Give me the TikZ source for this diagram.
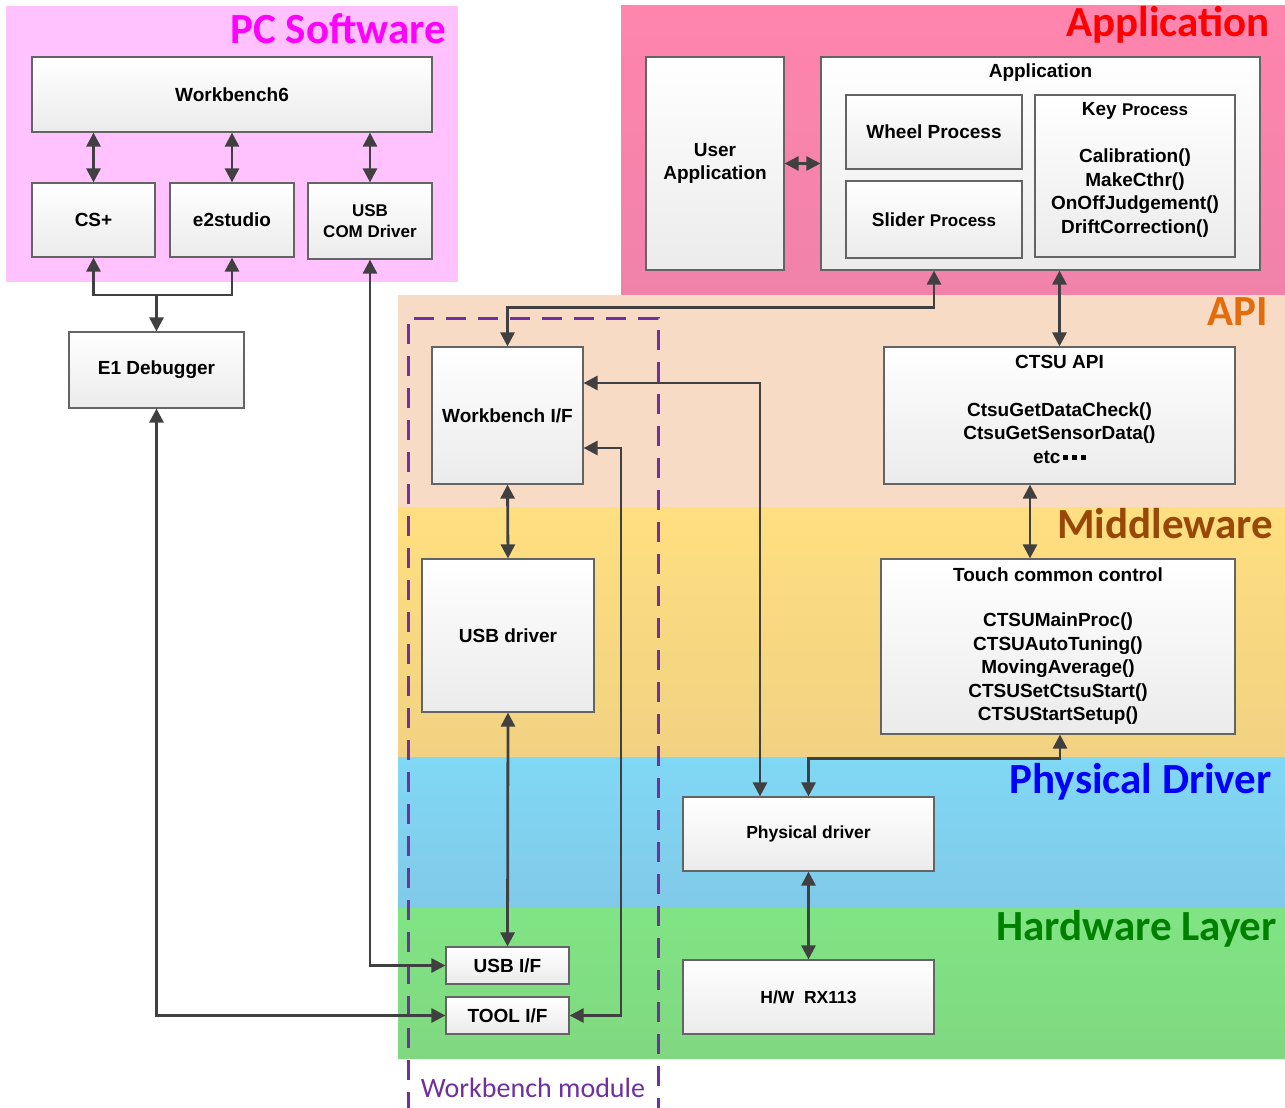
\documentclass[tikz,border=0pt]{standalone}
\usepackage{fontspec}
\setmainfont{Liberation Sans}
\newfontfamily\ttlfont{Carlito}
\usetikzlibrary{arrows.meta}
\newcommand\boxfont{\bfseries\fontsize{19}{23.5}\selectfont}
\newcommand\smallbox{\bfseries\fontsize{17}{21}\selectfont}
\newcommand\sqdot{\rule[3.5pt]{4.5pt}{4.5pt}}
\definecolor{boxedge}{HTML}{646464}
\definecolor{boxbottom}{HTML}{EBEBEB}
\definecolor{arrowgray}{HTML}{404040}
\definecolor{pcbg}{HTML}{FFC2FF}
\definecolor{apptop}{HTML}{FF85AD}
\definecolor{appbot}{HTML}{F082AA}
\definecolor{apibg}{HTML}{F8DBC4}
\definecolor{mwtop}{HTML}{FFDF80}
\definecolor{mwbot}{HTML}{F0D282}
\definecolor{pdtop}{HTML}{80D8F5}
\definecolor{pdbot}{HTML}{80CAE8}
\definecolor{hwtop}{HTML}{80E484}
\definecolor{hwbot}{HTML}{80D880}
\definecolor{pctitle}{HTML}{FF00FF}
\definecolor{apititle}{HTML}{E46C0A}
\definecolor{mwtitle}{HTML}{984806}
\definecolor{hwtitle}{HTML}{008000}
\definecolor{modpurple}{HTML}{7030A0}
\begin{document}
\begin{tikzpicture}[x=1pt,y=-1pt,
  >={Triangle[length=14pt,width=14pt]},
  block/.style={draw=boxedge, line width=1.2pt, top color=white, bottom color=boxbottom,
    inner sep=0pt, align=center, font=\boxfont},
  txt/.style={inner sep=0pt, align=center, font=\boxfont},
  conn/.style={draw=arrowgray, line width=2.8pt},
  ttl/.style={anchor=base east, inner sep=0pt, font=\ttlfont\bfseries\fontsize{43}{43}\selectfont},
  modframe/.style={draw=modpurple, line width=3pt, dash pattern=on 20pt off 12pt}
]
% canvas
\useasboundingbox (0,0) rectangle (1285,1108);
\fill[white] (0,0) rectangle (1285,1108);

% layer backgrounds
\fill[pcbg] (6,6) rectangle (458,282);
\fill[top color=apptop, bottom color=appbot] (621,6) rectangle (1285,295);
\fill[apibg] (398,295) rectangle (1285,507);
\fill[top color=mwtop, bottom color=mwbot] (398,507) rectangle (1285,757);
\fill[top color=pdtop, bottom color=pdbot] (398,757) rectangle (1285,908);
\fill[top color=hwtop, bottom color=hwbot] (398,908) rectangle (1285,1058);

% layer titles
\node[ttl, text=pctitle] (tpc) at (446,44) {PC Software};
\node[ttl, text=red] (tapp) at (1270,37) {Application};
\node[ttl, text=apititle] (tapi) at (1268,325) {API};
\node[ttl, text=mwtitle] (tmw) at (1273,538) {Middleware};
\node[ttl, text=blue] (tpd) at (1272,793) {Physical Driver};
\node[ttl, text=hwtitle] (thw) at (1277,940) {Hardware Layer};

% PC software blocks
\node[block, minimum width=400, minimum height=75] (wb6) at (232,94.5) {Workbench6};
\node[block, minimum width=123, minimum height=74] (cs) at (93.5,220) {CS+};
\node[block, minimum width=124, minimum height=74] (e2) at (232,220) {e2studio};
\node[block, minimum width=124, minimum height=76, font=\smallbox] (usbcom) at (370,221) {USB\\COM Driver};
\node[block, minimum width=175, minimum height=76] (e1) at (156.5,370) {E1 Debugger};

% application blocks
\node[block, minimum width=138, minimum height=213] (userapp) at (715,163.5) {User\\Application};
\node[block, minimum width=439, minimum height=213] (appout) at (1040.5,163.5) {};
\node[txt] (apptitle) at (1040.5,73) {Application};
\node[block, minimum width=176, minimum height=74] (wheel) at (934,132) {Wheel Process};
\node[block, minimum width=176, minimum height=77] (slider) at (934,219.5) {Slider {\smallbox Process}};
\node[block, minimum width=200, minimum height=162] (key) at (1135,176) {};
\node[txt] (keytitle) at (1135,111) {Key {\smallbox Process}};
\node[txt] (keyfuncs) at (1135,193) {Calibration()\\MakeCthr()\\OnOffJudgement()\\DriftCorrection()};

% workbench module blocks
\node[block, minimum width=151, minimum height=137] (wbif) at (507.5,415.5) {Workbench I/F};
\node[block, minimum width=172, minimum height=153] (usbdrv) at (508,635.5) {USB driver};
\node[block, minimum width=123, minimum height=37] (usbif) at (507.5,965.5) {USB I/F};
\node[block, minimum width=123, minimum height=37] (toolif) at (507.5,1015.5) {TOOL I/F};

% API and middleware blocks
\node[block, minimum width=351, minimum height=137] (ctsuapi) at (1059.5,415.5) {};
\node[txt] (apititle) at (1059.5,362) {CTSU API};
\node[txt] (apifuncs) at (1059.5,433) {CtsuGetDataCheck()\\CtsuGetSensorData()\\etc\hspace{3pt}\sqdot\hspace{4.5pt}\sqdot\hspace{4.5pt}\sqdot};
\node[block, minimum width=354, minimum height=175] (touch) at (1058,646.5) {};
\node[txt] (touchtitle) at (1058,575) {Touch common control};
\node[txt] (touchfuncs) at (1058,669) {CTSUMainProc()\\CTSUAutoTuning()\\MovingAverage()\\CTSUSetCtsuStart()\\CTSUStartSetup()};

% driver and hardware blocks
\node[block, minimum width=251, minimum height=74, font=\bfseries\fontsize{17.5}{21}\selectfont] (phys) at (808.5,834) {Physical driver};
\node[block, minimum width=251, minimum height=74, font=\bfseries\fontsize{17.5}{21}\selectfont] (hw) at (808.5,997) {H/W\ \ RX113};

% workbench module frame
\draw[modframe] (408,1112) -- (408,318) -- (658,318) -- (658,1112);
\node[inner sep=0pt, anchor=base, text=modpurple, font=\ttlfont\fontsize{28}{28}\selectfont] (wbmod) at (533,1097) {Workbench module};

% helper coordinates for connector bends
\coordinate (jd) at (156.5,295);
\coordinate (c760) at (760,383);
\coordinate (c621) at (621,448);
\coordinate (c1030) at (1030,0);
\coordinate (c1060) at (1060,0);

% connectors
\draw[conn,<->] (wb6.south -| cs.north) -- (cs.north);
\draw[conn,<->] (wb6.south -| e2.north) -- (e2.north);
\draw[conn,<->] (wb6.south -| usbcom.north) -- (usbcom.north);
\draw[conn,->] (jd) -- (e1.north);
\draw[conn,->] (jd) -| (cs.south);
\draw[conn,->] (jd) -| (e2.south);
\draw[conn,<->] (e1.south) |- (toolif.west);
\draw[conn,<->] (usbcom.south) |- (usbif.west);
\draw[conn,<->] (userapp.east) -- (appout.west);
\draw[conn,<->] (appout.south -| wheel.south) -- ++(0,37) -| (wbif.north);
\draw[conn,<->] (appout.south -| ctsuapi.north) -- (ctsuapi.north);
\draw[conn,<->] (wbif.east |- c760) -| (phys.north -| c760);
\draw[conn,<->] (wbif.east |- c621) -| (toolif.east -| c621) -- (toolif.east);
\draw[conn,<->] (wbif.south) -- (usbdrv.north);
\draw[conn,<->] (usbdrv.south) -- (usbif.north);
\draw[conn,<->] (ctsuapi.south -| c1030) -- (touch.north -| c1030);
\draw[conn,<->] (touch.south -| c1060) -- ++(0,24) -| (phys.north);
\draw[conn,<->] (phys.south) -- (hw.north);
\end{tikzpicture}
\end{document}
